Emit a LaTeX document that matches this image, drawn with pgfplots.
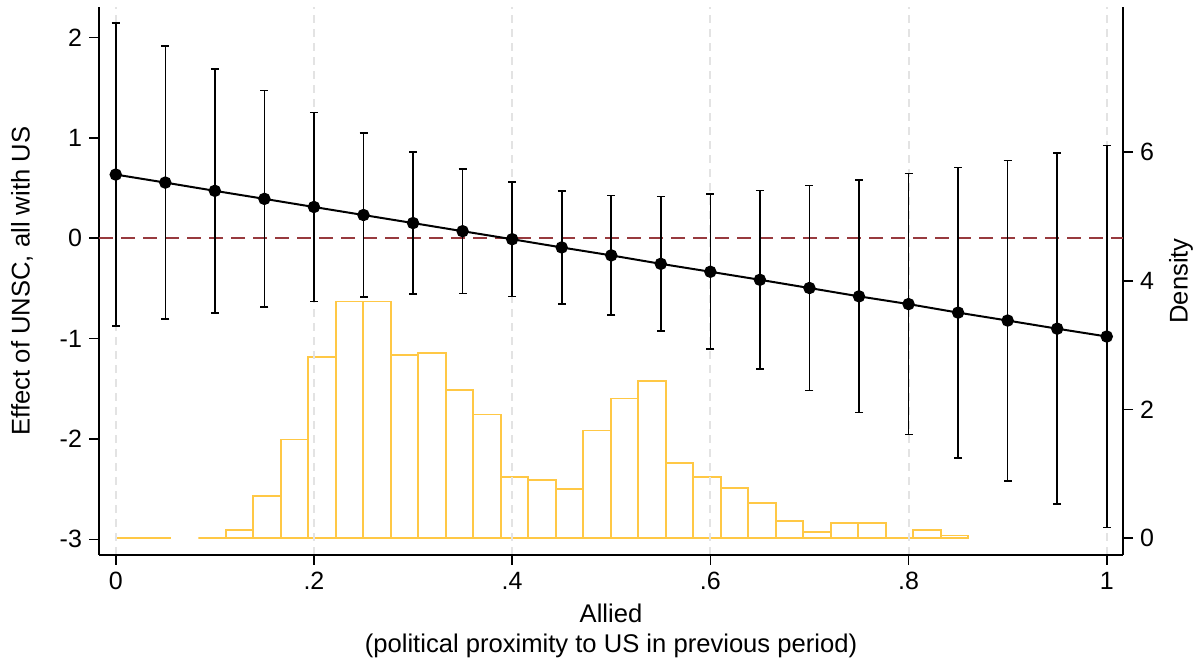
\documentclass[border=0pt]{standalone}
\usepackage{pgfplots}
\pgfplotsset{compat=1.18}
\usepackage{fontspec}
\setmainfont{Liberation Sans}
\definecolor{histc}{HTML}{FFC845}
\definecolor{refc}{HTML}{983A3E}
\definecolor{gridc}{HTML}{E3E3E3}

\pgfplotstableread{
x y e
0.00 0.633 1.507
0.05 0.553 1.361
0.10 0.471 1.215
0.15 0.391 1.079
0.20 0.310 0.942
0.25 0.230 0.817
0.30 0.150 0.708
0.35 0.069 0.620
0.40 -0.011 0.571
0.45 -0.093 0.564
0.50 -0.172 0.596
0.55 -0.256 0.670
0.60 -0.335 0.772
0.65 -0.415 0.889
0.70 -0.497 1.020
0.75 -0.580 1.156
0.80 -0.657 1.300
0.85 -0.742 1.447
0.90 -0.821 1.596
0.95 -0.902 1.747
1.00 -0.980 1.901
}\effects

\pgfplotstableread{
x h
0.111 0.13
0.13875 0.65
0.1665 1.53
0.19425 2.82
0.222 3.68
0.24975 3.68
0.2775 2.85
0.30525 2.88
0.333 2.30
0.36075 1.92
0.3885 0.95
0.41625 0.90
0.444 0.76
0.47175 1.67
0.4995 2.17
0.52725 2.44
0.555 1.17
0.58275 0.95
0.6105 0.78
0.63825 0.54
0.666 0.26
0.69375 0.09
0.7215 0.23
0.74925 0.23
0.777 0.00
0.80475 0.12
0.8325 0.04
0.86025 0
}\histB

\begin{document}
\begin{tikzpicture}[x=1pt,y=1pt]
\useasboundingbox (0,0) rectangle (600,331);
% density axis (right)
\begin{axis}[
  at={(49.5pt,53.5pt)}, anchor=south west,
  scale only axis, width=512pt, height=274pt,
  xmin=-0.0169, xmax=1.0164,
  ymin=-0.264, ymax=8.258,
  hide x axis,
  axis y line*=right,
  axis line style={-, line width=0.8pt, black},
  ytick={0,2,4,6},
  yticklabels={0,2,4,6},
  tick align=outside, major tick length=5pt,
  tick style={line width=0.8pt, black},
  yticklabel style={font=\fontsize{12.5}{15}\selectfont},
  ylabel={Density},
  every axis y label/.style={at={(axis description cs:1.0566,0.5)}, rotate=90, anchor=center, font=\fontsize{12.8}{15}\selectfont},
]
\addplot[ybar interval, draw=histc, fill=none, line width=0.85pt] coordinates {(0,0) (0.02775,0) (0.0555,0)};
\addplot[ybar interval, draw=histc, fill=none, line width=0.85pt] coordinates {(0.08325,0) (0.111,0)};
\addplot[ybar interval, draw=histc, fill=none, line width=0.85pt] table[x=x, y=h] {\histB};
\end{axis}
% main axis
\begin{axis}[
  at={(49.5pt,53.5pt)}, anchor=south west,
  scale only axis, width=512pt, height=274pt,
  xmin=-0.0169, xmax=1.0164,
  ymin=-3.156, ymax=2.302,
  axis x line*=bottom, axis y line*=left,
  axis line style={-, line width=0.8pt, black},
  xtick={0,0.2,0.4,0.6,0.8,1},
  xticklabels={0,.2,.4,.6,.8,1},
  ytick={-3,-2,-1,0,1,2},
  yticklabels={-3,-2,-1,0,1,2},
  tick align=outside, major tick length=5pt,
  tick style={line width=0.8pt, black},
  xticklabel style={font=\fontsize{12.5}{15}\selectfont},
  yticklabel style={font=\fontsize{12.5}{15}\selectfont},
  xmajorgrids,
  major x grid style={gridc, dash pattern=on 4pt off 3pt, line width=1pt},
  xlabel={Allied\\(political proximity to US in previous period)},
  every axis x label/.style={at={(axis description cs:0.5,-0.0895)}, anchor=north, align=center, inner sep=0pt, font=\fontsize{12.8}{14.6}\selectfont},
  ylabel={Effect of UNSC, all with US},
  every axis y label/.style={at={(axis description cs:-0.0752,0.5)}, rotate=90, anchor=center, font=\fontsize{12.8}{15}\selectfont},
]
\addplot[refc, line width=1.2pt, dash pattern=on 7pt off 4pt] coordinates {(-0.0169,0) (1.0164,0)};
\addplot[black, line width=1pt, mark=*, mark size=2.6pt, mark options={fill=black, solid},
  error bars/.cd, y dir=both, y explicit,
  error bar style={line width=0.8pt, black},
  error mark options={rotate=90, mark size=2pt, line width=0.8pt, black}]
  table[x=x, y=y, y error=e] {\effects};
\end{axis}
\end{tikzpicture}
\end{document}
